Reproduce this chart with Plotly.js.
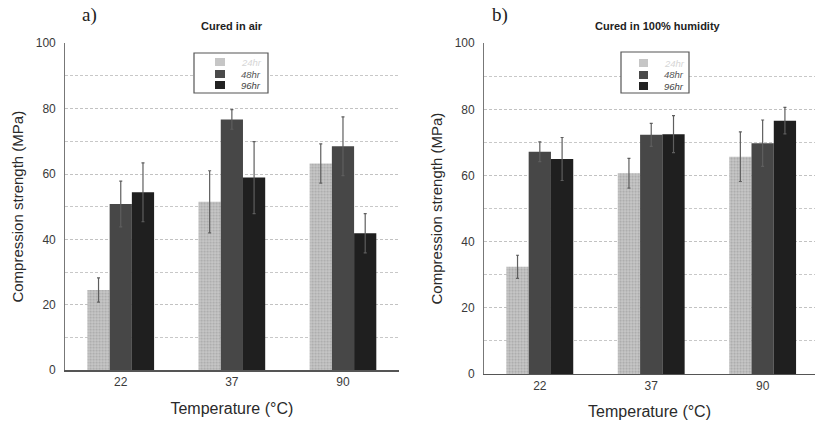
<!DOCTYPE html>
<html>
<head>
<meta charset="utf-8">
<script src="https://cdn.plot.ly/plotly-3.0.1.min.js"></script>
<style>
  html, body { margin: 0; padding: 0; background: #fff; overflow: hidden; }
  #chart { width: 815px; height: 424px; }
</style>
</head>
<body>
<div id="chart"></div>
<script>
// Curing temperature groups
const temperatures = ['22', '37', '90'];
const curingTimes = ['24hr', '48hr', '96hr'];

// a) Cured in air: mean compression strength (MPa) and error
const air24 = [24.5, 51.5, 63.2];
const air48 = [50.8, 76.7, 68.5];
const air96 = [54.4, 58.9, 41.9];
const air24Err = [3.7, 9.5, 6.0];
const air48Err = [7.0, 3.0, 9.0];
const air96Err = [9.0, 11.0, 6.0];

// b) Cured in 100% humidity
const hum24 = [32.4, 60.7, 65.7];
const hum48 = [67.2, 72.3, 69.8];
const hum96 = [65.0, 72.5, 76.6];
const hum24Err = [3.5, 4.5, 7.5];
const hum48Err = [3.0, 3.5, 7.0];
const hum96Err = [6.5, 5.6, 4.0];

const W = 815, H = 424;
const FONT = 'Liberation Sans, Arial, sans-serif';

const barStyles = [
  { color: '#c2c2c2', pattern: { shape: '.', fgcolor: '#a6a6a6', bgcolor: '#c9c9c9', size: 3, solidity: 0.4 },
    swatch: '#c6c6c6', text: '#d6d6d6' },
  { color: '#474747', swatch: '#4a4a4a', text: '#555' },
  { color: '#1f1f1f', swatch: '#222', text: '#444' }
];

function makeTraces(valueSets, errSets, xa, ya) {
  return valueSets.map((vals, i) => {
    const st = barStyles[i];
    const marker = { color: st.color, line: { width: 0 } };
    if (st.pattern) marker.pattern = st.pattern;
    return {
      type: 'bar',
      x: temperatures,
      y: vals,
      name: curingTimes[i],
      marker: marker,
      error_y: { type: 'data', array: errSets[i], visible: true, color: '#5e5e5e', thickness: 1.2, width: 1.5 },
      xaxis: xa,
      yaxis: ya,
      showlegend: false
    };
  });
}

const traces = [
  ...makeTraces([air24, air48, air96], [air24Err, air48Err, air96Err], 'x', 'y'),
  ...makeTraces([hum24, hum48, hum96], [hum24Err, hum48Err, hum96Err], 'x2', 'y2')
];

const gridDash = '3px,2px';

function yAxis(domain, anchor) {
  return {
    domain: domain,
    anchor: anchor,
    range: [0, 100],
    dtick: 20,
    tick0: 0,
    showgrid: true,
    gridcolor: '#c2c2c2',
    griddash: gridDash,
    gridwidth: 1,
    minor: { dtick: 10, showgrid: true, gridcolor: '#c8c8c8', griddash: gridDash, gridwidth: 1 },
    zeroline: false,
    showline: true,
    linecolor: '#777',
    linewidth: 1,
    ticks: '',
    ticklabelstandoff: 6,
    tickfont: { family: FONT, size: 12, color: '#3a3a3a' },
    title: { text: 'Compression strength (MPa)', font: { family: FONT, size: 15, color: '#2a2a2a' }, standoff: 8 }
  };
}

function xAxis(domain, anchor, range) {
  return {
    domain: domain,
    anchor: anchor,
    range: range,
    type: 'category',
    showgrid: false,
    zeroline: false,
    showline: true,
    linecolor: '#555',
    linewidth: 1.5,
    ticks: '',
    ticklabelstandoff: 0,
    tickfont: { family: FONT, size: 12, color: '#3a3a3a' },
    title: { text: 'Temperature (°C)', font: { family: FONT, size: 16, color: '#2a2a2a' }, standoff: 14 }
  };
}

// Boxed legend drawn in paper space (pixel positions converted to paper fractions)
const px = v => v / W;
const py = v => 1 - v / H;

function boxedLegend(box, swatchX, swatchW, textX, rowY) {
  const shapes = [{
    type: 'rect', xref: 'paper', yref: 'paper',
    x0: px(box.x0), x1: px(box.x1), y0: py(box.y1), y1: py(box.y0),
    line: { color: '#555', width: 1.2 }, fillcolor: '#fff', layer: 'above'
  }];
  const notes = [];
  curingTimes.forEach((name, i) => {
    shapes.push({
      type: 'rect', xref: 'paper', yref: 'paper',
      x0: px(swatchX), x1: px(swatchX + swatchW), y0: py(rowY[i] + 4), y1: py(rowY[i] - 4),
      line: { width: 0 }, fillcolor: barStyles[i].swatch, layer: 'above'
    });
    notes.push({
      text: '<i>' + name + '</i>', xref: 'paper', yref: 'paper', x: px(textX), y: py(rowY[i]),
      xanchor: 'left', yanchor: 'middle', showarrow: false,
      font: { family: FONT, size: 9.5, color: barStyles[i].text }
    });
  });
  return { shapes, notes };
}

const legA = boxedLegend({ x0: 194, x1: 268, y0: 53, y1: 93 }, 215, 10, 239, [62, 74, 85]);
const legB = boxedLegend({ x0: 621, x1: 689, y0: 52, y1: 93 }, 639, 9, 662, [63, 75, 86]);

const layout = {
  width: W,
  height: H,
  margin: { l: 0, r: 0, t: 0, b: 0 },
  paper_bgcolor: '#fff',
  plot_bgcolor: '#fff',
  barmode: 'group',
  bargap: 0.4,
  bargroupgap: 0,
  showlegend: false,
  xaxis: xAxis([0.08, 0.489], 'y', [-0.5, 2.5]),
  yaxis: yAxis([0.127, 0.898], 'x'),
  xaxis2: xAxis([0.594, 1.0], 'y2', [-0.5, 2.47]),
  yaxis2: yAxis([0.118, 0.898], 'x2'),
  shapes: [...legA.shapes, ...legB.shapes],
  annotations: [
    { text: 'a)', xref: 'paper', yref: 'paper', x: px(89), y: py(15), xanchor: 'center', yanchor: 'middle', showarrow: false,
      font: { family: 'Liberation Serif, DejaVu Serif, serif', size: 19, color: '#222' } },
    { text: 'b)', xref: 'paper', yref: 'paper', x: px(500), y: py(15), xanchor: 'center', yanchor: 'middle', showarrow: false,
      font: { family: 'Liberation Serif, DejaVu Serif, serif', size: 19, color: '#222' } },
    { text: '<b>Cured in air</b>', xref: 'paper', yref: 'paper', x: px(232), y: py(26), xanchor: 'center', yanchor: 'middle', showarrow: false,
      font: { family: FONT, size: 11, color: '#222' } },
    { text: '<b>Cured in 100% humidity</b>', xref: 'paper', yref: 'paper', x: px(658), y: py(26), xanchor: 'center', yanchor: 'middle', showarrow: false,
      font: { family: FONT, size: 11, color: '#222' } },
    ...legA.notes,
    ...legB.notes
  ]
};

Plotly.newPlot('chart', traces, layout, { displayModeBar: false, staticPlot: true });
</script>
</body>
</html>
